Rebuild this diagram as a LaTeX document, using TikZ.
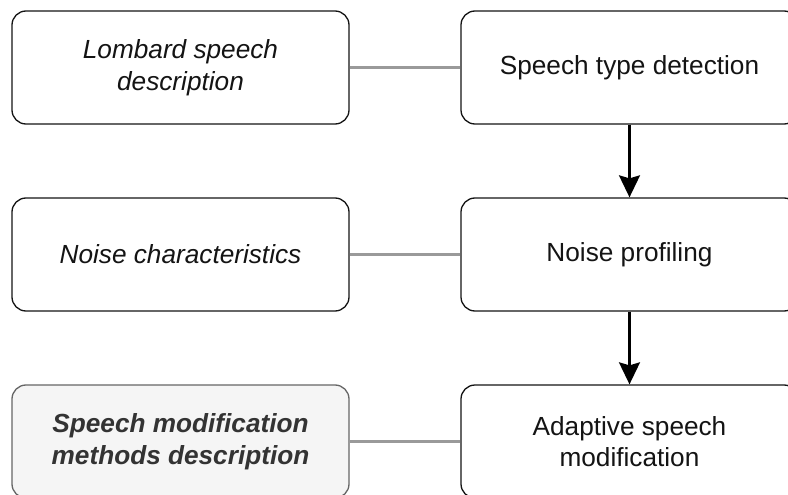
\documentclass[tikz,border=0pt]{standalone}
\usepackage{fontspec}
\setmainfont{Liberation Sans}
\usetikzlibrary{arrows.meta}
\definecolor{boxline}{HTML}{141414}
\definecolor{connline}{HTML}{9A9A9A}
\definecolor{grayfill}{HTML}{F5F5F5}
\definecolor{grayline}{HTML}{666666}
\definecolor{graytext}{HTML}{333333}
\tikzset{
  stagebox/.style={draw=boxline, line width=1.3pt, rounded corners=14pt, fill=white,
    minimum width=337pt, minimum height=113pt, inner sep=0pt, align=center,
    font=\fontsize{26.2}{31.5}\selectfont, text=boxline},
  infobox/.style={stagebox, font=\fontsize{26.2}{31.5}\selectfont\itshape},
  graybox/.style={stagebox, draw=grayline, fill=grayfill, text=graytext,
    font=\fontsize{26.2}{31.5}\selectfont\bfseries\itshape},
  link/.style={draw=connline, line width=2.2pt},
  flow/.style={draw=black, line width=2.2pt, -{Stealth[length=22pt, width=21pt, inset=3pt]}}
}
\begin{document}
\begin{tikzpicture}[x=1pt, y=-1pt]
\useasboundingbox (0,0) rectangle (788,495);
\clip (0,0) rectangle (788,495);
\node[infobox] (lt) at (180.5,67.5) {Lombard speech\\description};
\node[stagebox] (rt) at (629.5,67.5) {Speech type detection};
\node[infobox] (lm) at (180.5,254.5) {Noise characteristics};
\node[stagebox] (rm) at (629.5,254.5) {Noise profiling};
\node[graybox] (lb) at (180.5,441.5) {Speech modification\\methods description};
\node[stagebox] (rb) at (629.5,441.5) {Adaptive speech\\modification};
\draw[link] (lt.east) -- (rt.west);
\draw[link] (lm.east) -- (rm.west);
\draw[link] (lb.east) -- (rb.west);
\draw[flow] (rt.south) -- (rm.north);
\draw[flow] (rm.south) -- (rb.north);
\end{tikzpicture}
\end{document}
